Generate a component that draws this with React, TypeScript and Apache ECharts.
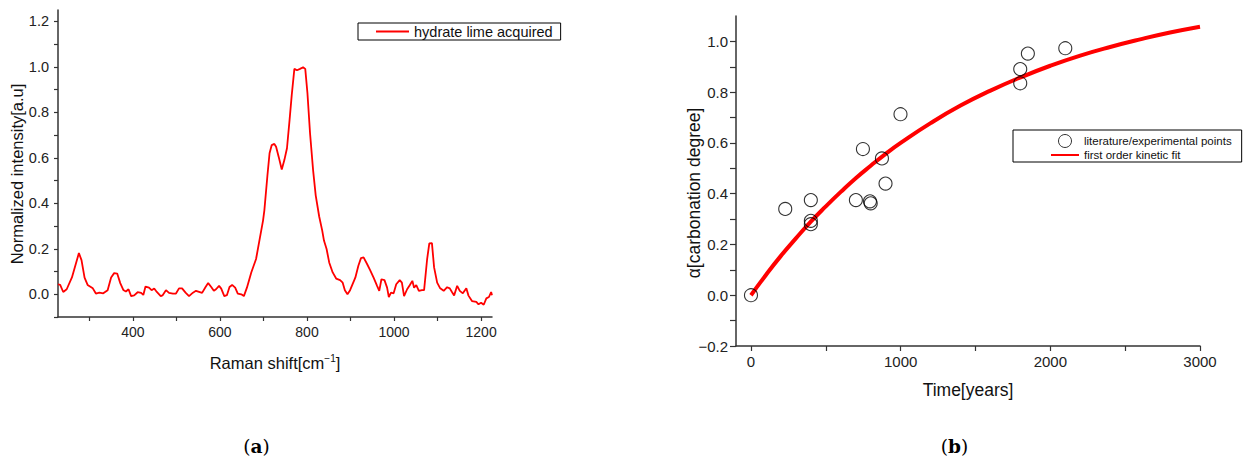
import React, { useEffect, useRef } from "react";
import * as echarts from "echarts";

// ---- Panel (a): Raman spectrum ----
const ramanShift = [228, 233, 240, 248, 260, 276, 282, 289, 296, 308, 315, 323, 332, 342, 350, 357, 364, 371, 378, 384, 390, 396, 403, 411, 419, 424, 429, 437, 443, 449, 455, 464, 468, 476, 483, 492, 499, 506, 513, 521, 529, 538, 545, 559, 567, 573, 580, 586, 591, 598, 603, 610, 616, 622, 628, 635, 641, 649, 655, 662, 672, 683, 692, 699, 702, 709, 714, 719, 725, 729, 735, 742, 748, 754, 760, 765, 771, 777, 784, 791, 796, 801, 807, 814, 820, 828, 835, 839, 845, 851, 859, 867, 876, 882, 887, 893, 899, 911, 918, 924, 930, 938, 945, 953, 961, 966, 971, 978, 984, 988, 993, 999, 1005, 1013, 1018, 1023, 1030, 1036, 1042, 1046, 1051, 1057, 1064, 1069, 1076, 1081, 1087, 1092, 1099, 1106, 1114, 1122, 1128, 1133, 1138, 1145, 1151, 1158, 1166, 1171, 1179, 1189, 1194, 1200, 1206, 1212, 1218, 1223, 1225];
const intensity = [0.044, 0.041, 0.010, 0.022, 0.074, 0.181, 0.150, 0.073, 0.041, 0.026, 0.003, 0.007, 0.004, 0.018, 0.074, 0.093, 0.091, 0.049, 0.019, 0.012, 0.022, -0.008, -0.005, 0.009, 0.006, -0.003, 0.034, 0.029, 0.018, 0.025, 0.010, -0.008, -0.005, 0.018, 0.006, 0.003, 0.003, 0.026, 0.026, 0.007, -0.008, 0.007, 0.015, 0.006, 0.032, 0.049, 0.032, 0.015, 0.022, 0.037, 0.025, -0.008, -0.004, 0.032, 0.041, 0.029, 0.003, 0.000, -0.008, 0.029, 0.096, 0.155, 0.25, 0.324, 0.368, 0.52, 0.62, 0.656, 0.661, 0.649, 0.604, 0.549, 0.590, 0.642, 0.767, 0.877, 0.991, 0.985, 0.991, 0.998, 0.991, 0.885, 0.708, 0.546, 0.435, 0.342, 0.28, 0.236, 0.199, 0.140, 0.096, 0.069, 0.062, 0.051, 0.018, 0.000, 0.018, 0.073, 0.125, 0.159, 0.162, 0.133, 0.106, 0.073, 0.037, 0.015, 0.066, 0.062, 0.029, -0.012, 0.007, 0.004, 0.044, 0.062, 0.051, -0.008, 0.022, 0.040, 0.059, 0.029, 0.040, 0.015, 0.018, 0.018, 0.155, 0.224, 0.225, 0.118, 0.051, 0.026, 0.015, 0.031, 0.026, 0.010, -0.005, 0.037, 0.015, 0.004, 0.026, -0.006, -0.030, -0.034, -0.044, -0.037, -0.046, -0.018, -0.012, 0.010, -0.004];
const ramanTickLabels = [400, 600, 800, 1000, 1200];
const ramanTicks = [300, 400, 500, 600, 700, 800, 900, 1000, 1100, 1200];
const intensityTickLabels = [0, 0.2, 0.4, 0.6, 0.8, 1.0, 1.2];
const intensityTicks = [-0.1, 0, 0.1, 0.2, 0.3, 0.4, 0.5, 0.6, 0.7, 0.8, 0.9, 1.0, 1.1, 1.2];

// ---- Panel (b): carbonation degree ----
const pointYears = [0, 229, 400, 400, 400, 701, 748, 795, 800, 875, 899, 999, 1799, 1799, 1850, 2100];
const pointAlpha = [0, 0.340, 0.375, 0.293, 0.280, 0.375, 0.576, 0.370, 0.362, 0.539, 0.440, 0.713, 0.835, 0.891, 0.952, 0.973];
const fitYears = [0, 100, 200, 300, 400, 500, 600, 700, 800, 900, 1000, 1200, 1400, 1600, 1800, 2000, 2200, 2400, 2600, 2800, 3000];
const fitAlpha = [0, 0.080, 0.155, 0.224, 0.290, 0.350, 0.407, 0.461, 0.510, 0.557, 0.600, 0.678, 0.747, 0.806, 0.858, 0.904, 0.944, 0.978, 1.008, 1.035, 1.058];
const yearTickLabels = [0, 1000, 2000, 3000];
const yearTicks = [0, 500, 1000, 1500, 2000, 2500, 3000];
const alphaTickLabels = [-0.2, 0, 0.2, 0.4, 0.6, 0.8, 1.0];
const alphaTicks = [-0.2, -0.1, 0, 0.1, 0.2, 0.3, 0.4, 0.5, 0.6, 0.7, 0.8, 0.9, 1.0];

const FONT = "'Liberation Sans', Arial, sans-serif";
const SERIF = "'DejaVu Serif', serif";
const AXIS_COLOR = "#333";

function fmt(v: number): string {
  const s = v.toFixed(1);
  return s.startsWith("-") ? "\u2212" + s.slice(1) : s;
}

export default function App() {
  const ref = useRef<HTMLDivElement>(null);

  useEffect(() => {
    if (!ref.current) return;
    const chart = echarts.init(ref.current, undefined, { renderer: "svg" });

    const axisLine = { show: true, onZero: false, lineStyle: { color: AXIS_COLOR, width: 1.5 } };
    const tickStyle = { color: AXIS_COLOR, width: 1.2 };

    const spectrum = ramanShift.map((x, i) => [x, intensity[i]]);
    const points = pointYears.map((x, i) => [x, pointAlpha[i]]);
    const fit = fitYears.map((x, i) => [x, fitAlpha[i]]);

    const option: any = {
      animation: false,
      backgroundColor: "#fff",
      grid: [
        { left: 58, top: 10, width: 434, height: 307, containLabel: false },
        { left: 736, top: 16, width: 464, height: 330, containLabel: false },
      ],
      xAxis: [
        {
          type: "value",
          gridIndex: 0,
          min: 228,
          max: 1225,
          axisLine,
          splitLine: { show: false },
          axisTick: { show: true, length: 4, customValues: ramanTicks, lineStyle: tickStyle },
          axisLabel: { color: "#222", fontSize: 14, fontFamily: FONT, margin: 8, customValues: ramanTickLabels, formatter: (v: number) => String(v) },
        },
        {
          type: "value",
          gridIndex: 1,
          min: -100,
          max: 3000,
          axisLine,
          splitLine: { show: false },
          axisTick: { show: true, length: 5, customValues: yearTicks, lineStyle: tickStyle },
          axisLabel: { color: "#222", fontSize: 15, fontFamily: FONT, margin: 8, customValues: yearTickLabels, formatter: (v: number) => String(v) },
        },
      ],
      yAxis: [
        {
          type: "value",
          gridIndex: 0,
          min: -0.1,
          max: 1.25,
          axisLine,
          splitLine: { show: false },
          axisTick: { show: true, length: 4, customValues: intensityTicks, lineStyle: tickStyle },
          axisLabel: { color: "#222", fontSize: 14.5, fontFamily: FONT, margin: 9, customValues: intensityTickLabels, formatter: (v: number) => fmt(v) },
        },
        {
          type: "value",
          gridIndex: 1,
          min: -0.2,
          max: 1.1,
          axisLine,
          splitLine: { show: false },
          axisTick: { show: true, length: 6, customValues: alphaTicks, lineStyle: tickStyle },
          axisLabel: { color: "#222", fontSize: 15, fontFamily: FONT, margin: 8, customValues: alphaTickLabels, formatter: (v: number) => fmt(v) },
        },
      ],
      legend: [
        {
          data: [{ name: "hydrate lime acquired", itemStyle: { opacity: 0 } }],
          left: 358,
          top: 23,
          orient: "horizontal",
          padding: [1, 8, 1, 17],
          itemWidth: 33,
          itemHeight: 10,
          borderColor: "#000",
          borderWidth: 1,
          borderRadius: 0,
          textStyle: { fontSize: 14.5, color: "#111", fontFamily: FONT },
        },
        {
          data: [
            { name: "literature/experimental points", itemStyle: { color: "rgba(0,0,0,0)", borderColor: "#000", borderWidth: 1 } },
            { name: "first order kinetic fit", itemStyle: { opacity: 0 } },
          ],
          left: 1013,
          top: 130,
          orient: "vertical",
          align: "left",
          padding: [4, 10, 1, 37],
          itemGap: 1,
          itemWidth: 28,
          itemHeight: 13,
          borderColor: "#000",
          borderWidth: 1,
          borderRadius: 0,
          textStyle: { fontSize: 11.5, color: "#111", fontFamily: FONT },
        },
      ],
      series: [
        {
          name: "hydrate lime acquired",
          type: "line",
          xAxisIndex: 0,
          yAxisIndex: 0,
          data: spectrum,
          symbol: "none",
          lineStyle: { color: "#ff0000", width: 1.8 },
          itemStyle: { color: "#ff0000" },
          clip: true,
        },
        {
          name: "literature/experimental points",
          type: "scatter",
          xAxisIndex: 1,
          yAxisIndex: 1,
          data: points,
          symbol: "circle",
          symbolSize: 13,
          itemStyle: { color: "rgba(0,0,0,0)", borderColor: "#000", borderWidth: 1.1 },
          z: 3,
        },
        {
          name: "first order kinetic fit",
          type: "line",
          xAxisIndex: 1,
          yAxisIndex: 1,
          data: fit,
          symbol: "none",
          smooth: true,
          lineStyle: { color: "#ff0000", width: 4 },
          itemStyle: { color: "#ff0000" },
          z: 2,
        },
      ],
      graphic: [
        {
          type: "text",
          x: 17,
          y: 174,
          rotation: Math.PI / 2,
          style: { text: "Normalized intensity[a.u]", font: `16.5px ${FONT}`, fill: "#111", align: "center", verticalAlign: "middle" },
        },
        {
          type: "text",
          x: 275,
          y: 363,
          style: {
            text: "Raman shift[cm{sup|\u22121}]",
            font: `16.5px ${FONT}`,
            fill: "#111",
            align: "center",
            verticalAlign: "middle",
            rich: { sup: { fontSize: 10, fontFamily: FONT, fill: "#111", padding: [0, 0, 9, 0] } },
          },
        },
        {
          type: "text",
          x: 694,
          y: 193,
          rotation: Math.PI / 2,
          style: { text: "\u03b1[carbonation degree]", font: `17.5px ${FONT}`, fill: "#111", align: "center", verticalAlign: "middle" },
        },
        {
          type: "text",
          x: 968,
          y: 390,
          style: { text: "Time[years]", font: `17.5px ${FONT}`, fill: "#111", align: "center", verticalAlign: "middle" },
        },
        {
          type: "text",
          x: 256.5,
          y: 446,
          style: {
            text: "({b|a})",
            font: `normal 18.5px ${SERIF}`,
            fill: "#000",
            align: "center",
            verticalAlign: "middle",
            rich: { b: { fontWeight: "bold", fontSize: 18.5, fontFamily: SERIF, fill: "#000" } },
          },
        },
        {
          type: "text",
          x: 954.5,
          y: 446,
          style: {
            text: "({b|b})",
            font: `normal 18.5px ${SERIF}`,
            fill: "#000",
            align: "center",
            verticalAlign: "middle",
            rich: { b: { fontWeight: "bold", fontSize: 18.5, fontFamily: SERIF, fill: "#000" } },
          },
        },
      ],
    };

    chart.setOption(option);
    return () => chart.dispose();
  }, []);

  return (
    <div
      ref={ref}
      style={{ position: "fixed", left: 0, top: 0, width: 1247, height: 457, background: "#fff" }}
    />
  );
}
